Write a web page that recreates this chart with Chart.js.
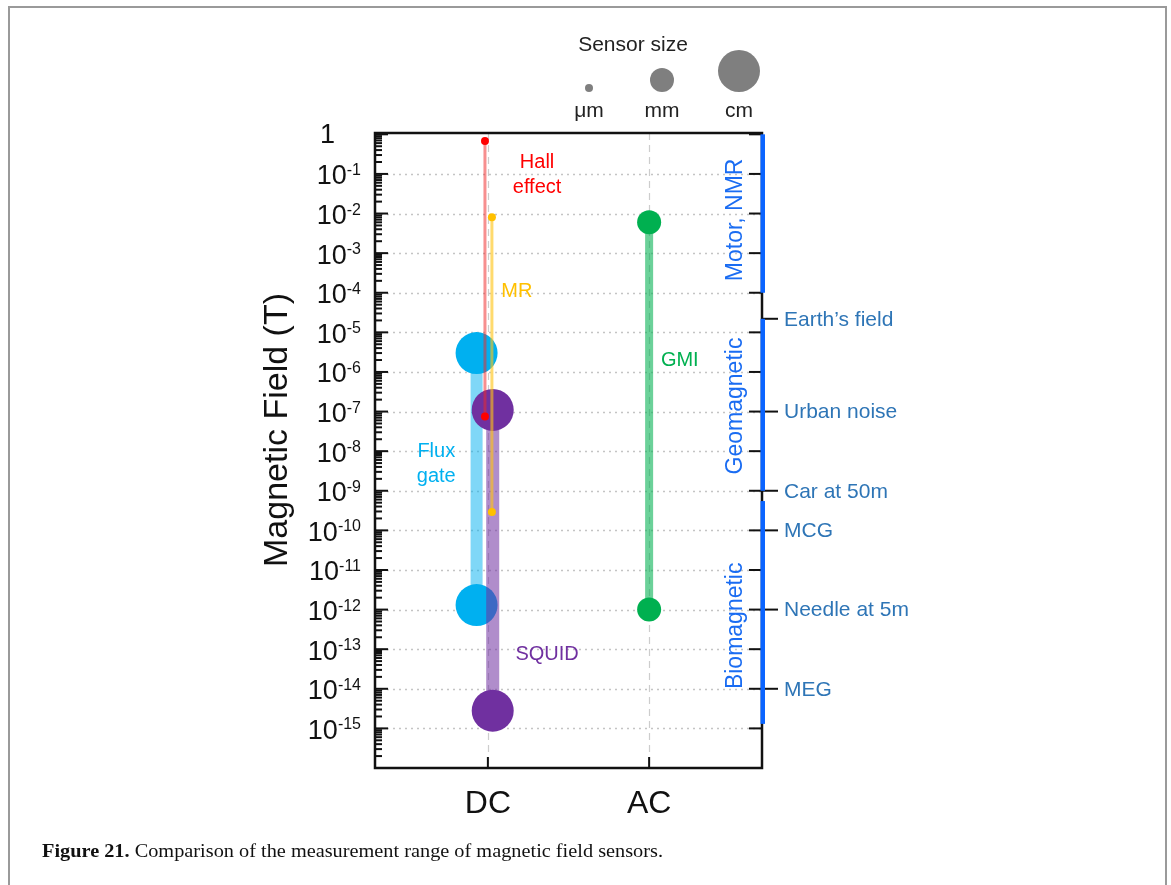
<!DOCTYPE html>
<html>
<head>
<meta charset="utf-8">
<title>Magnetic field sensor ranges</title>
<script src="https://cdn.jsdelivr.net/npm/chart.js@4/dist/chart.umd.min.js"></script>
<style>
  html, body { margin: 0; padding: 0; background: #fff; }
  #wrap { position: relative; width: 1171px; height: 885px; overflow: hidden; }
  #frame { position: absolute; left: 8px; top: 6px; width: 1155px; height: 920px;
           border: 2px solid #9a9a9a; }
  #c { position: absolute; left: 0; top: 0; }
</style>
</head>
<body>
<div id="wrap">
  <div id="frame"></div>
  <canvas id="c" width="1171" height="885"></canvas>
</div>
<script>
// ---- data ----
const categories = ['DC', 'AC'];
const categoryX = [1, 2];

const sensors    = ['MR', 'Hall effect', 'SQUID', 'Flux gate', 'GMI'];
const sensorX    = [1.025, 0.982, 1.03, 0.93, 2];
const rangeHigh  = [8e-3, 0.68, 1.1e-7, 3e-6, 6e-3];      // tesla
const rangeLow   = [2.9e-10, 7.5e-8, 2.8e-15, 1.3e-12, 1e-12];
const sensorSize = ['μm', 'μm', 'cm', 'cm', 'mm'];

const sizeClasses = ['μm', 'mm', 'cm'];

const fieldExponents = [0, -1, -2, -3, -4, -5, -6, -7, -8, -9, -10, -11, -12, -13, -14, -15];

const regionNames = ['Motor, NMR', 'Geomagnetic', 'Biomagnetic'];
const regionHigh  = [1, 2.2e-5, 5.5e-10];
const regionLow   = [1e-4, 1e-9, 1.3e-15];
const regionLabelExp = [-2.16, -6.86, -12.41];

const referenceNames  = ['Earth\u2019s field', 'Urban noise', 'Car at 50m', 'MCG', 'Needle at 5m', 'MEG'];
const referenceValues = [2.2e-5, 1e-7, 1e-9, 1e-10, 1e-12, 1e-14];

// ---- styling ----
const SANS = '"Liberation Sans", Arial, Helvetica, sans-serif';
const SERIF = '"Liberation Serif", "Times New Roman", serif';
const style = {
  'MR':          { color: '#ffc000', line: 'rgba(255,196,20,0.62)', width: 3,  order: 0 },
  'Hall effect': { color: '#ff0000', line: 'rgba(240,40,40,0.52)',  width: 3,  order: 1 },
  'SQUID':       { color: '#7030a0', line: 'rgba(112,48,160,0.55)', width: 13, order: 2 },
  'Flux gate':   { color: '#00b0f0', line: 'rgba(0,176,240,0.5)',   width: 12, order: 3 },
  'GMI':         { color: '#00b050', line: 'rgba(0,176,80,0.58)',   width: 8,  order: 4 }
};
const sizeRadius = { 'μm': 4, 'mm': 12, 'cm': 21 };

// text anchors in data space: [x, log10(T)] of first line
const sensorLabelAt = {
  'Hall effect': { x: 1.305, e: -0.72, lines: ['Hall', 'effect'] },
  'MR':          { x: 1.18,  e: -3.96, lines: ['MR'] },
  'Flux gate':   { x: 0.68,  e: -8.02, lines: ['Flux', 'gate'] },
  'SQUID':       { x: 1.367, e: -13.14, lines: ['SQUID'] },
  'GMI':         { x: 2.19,  e: -5.7,  lines: ['GMI'] }
};

const datasets = sensors.map((name, i) => ({
  label: name,
  data: [{ x: sensorX[i], y: rangeHigh[i] }, { x: sensorX[i], y: rangeLow[i] }],
  showLine: true,
  borderColor: style[name].line,
  borderWidth: style[name].width,
  borderCapStyle: 'butt',
  pointRadius: sizeRadius[sensorSize[i]],
  pointHoverRadius: sizeRadius[sensorSize[i]],
  pointBackgroundColor: style[name].color,
  pointBorderWidth: 0,
  pointBorderColor: style[name].color,
  order: style[name].order,
  clip: false
}));

function seg(ctx, x1, y1, x2, y2) {
  ctx.beginPath(); ctx.moveTo(x1, y1); ctx.lineTo(x2, y2); ctx.stroke();
}

const decor = {
  id: 'decor',
  beforeDatasetsDraw(chart) {
    const { ctx, chartArea: a, scales: { x, y } } = chart;
    ctx.save();
    // dotted decade gridlines
    ctx.strokeStyle = '#c4c4c4';
    ctx.lineWidth = 1.3;
    ctx.setLineDash([2, 4]);
    fieldExponents.forEach(e => {
      if (e === 0) return;
      const py = Math.round(y.getPixelForValue(Math.pow(10, e))) + 0.5;
      seg(ctx, a.left, py, a.right, py);
    });
    // dashed category gridlines
    ctx.strokeStyle = '#cdcdcd';
    ctx.lineWidth = 1.2;
    ctx.setLineDash([7, 5]);
    categoryX.forEach(v => {
      const px = Math.round(x.getPixelForValue(v)) + 0.5;
      seg(ctx, px, a.top, px, a.bottom);
    });
    ctx.restore();
  },
  afterDatasetsDraw(chart) {
    const { ctx, chartArea: a, scales: { x, y } } = chart;
    const Y = v => y.getPixelForValue(v);
    const X = v => x.getPixelForValue(v);
    ctx.save();
    ctx.setLineDash([]);

    // frame
    ctx.strokeStyle = '#111';
    ctx.lineWidth = 2.5;
    ctx.strokeRect(a.left, a.top, a.right - a.left, a.bottom - a.top);

    // left axis: inward major + minor ticks
    ctx.lineWidth = 2;
    for (let n = -16; n <= 0; n++) {
      const py = Y(Math.pow(10, n));
      if (n > -16) seg(ctx, a.left, py, a.left + 13, py);
      if (n < 0) {
        for (let m = 2; m <= 9; m++) {
          const pm = Y(m * Math.pow(10, n));
          seg(ctx, a.left, pm, a.left + 7, pm);
        }
      }
    }
    // right axis: inward decade ticks
    fieldExponents.forEach(e => {
      const py = Y(Math.pow(10, e));
      seg(ctx, a.right - 13, py, a.right, py);
    });
    // bottom axis: category ticks
    categoryX.forEach(v => {
      const px = X(v);
      seg(ctx, px, a.bottom, px, a.bottom - 11);
    });

    // y tick labels with superscript exponents
    ctx.fillStyle = '#111';
    fieldExponents.forEach(e => {
      const py = Y(Math.pow(10, e));
      if (e === 0) {
        ctx.font = '27px ' + SANS;
        ctx.textAlign = 'right';
        ctx.textBaseline = 'middle';
        ctx.fillText('1', 335, py + 1);
        return;
      }
      const sup = '-' + String(-e);
      ctx.font = '16px ' + SANS;
      const sw = ctx.measureText(sup).width;
      ctx.textAlign = 'left';
      ctx.textBaseline = 'alphabetic';
      ctx.fillText(sup, 361 - sw, py + 1);
      ctx.font = '27px ' + SANS;
      ctx.textAlign = 'right';
      ctx.fillText('10', 361 - sw, py + 10.5);
    });

    // y axis title
    ctx.save();
    ctx.translate(287, 430);
    ctx.rotate(-Math.PI / 2);
    ctx.font = '34px ' + SANS;
    ctx.textAlign = 'center';
    ctx.textBaseline = 'alphabetic';
    ctx.fillText('Magnetic Field (T)', 0, 0);
    ctx.restore();

    // category labels
    ctx.font = '32px ' + SANS;
    ctx.textAlign = 'center';
    ctx.textBaseline = 'middle';
    categories.forEach((c, i) => ctx.fillText(c, X(categoryX[i]), 804));

    // sensor labels
    ctx.font = '20px ' + SANS;
    sensors.forEach(name => {
      const lab = sensorLabelAt[name];
      ctx.fillStyle = style[name].color;
      const px = X(lab.x), py = Y(Math.pow(10, lab.e));
      lab.lines.forEach((t, k) => ctx.fillText(t, px, py + k * 25));
    });

    // reference field levels outside the right axis
    ctx.strokeStyle = '#111';
    ctx.lineWidth = 2;
    ctx.fillStyle = '#2e75b6';
    ctx.font = '21px ' + SANS;
    ctx.textAlign = 'left';
    ctx.textBaseline = 'middle';
    referenceNames.forEach((t, i) => {
      const py = Y(referenceValues[i]);
      seg(ctx, a.right, py, a.right + 16, py);
      ctx.fillText(t, a.right + 22, py + 1);
    });

    // application bands along the right axis
    ctx.fillStyle = '#0a64ff';
    regionNames.forEach((t, i) => {
      const y1 = Y(regionHigh[i]), y2 = Y(regionLow[i]);
      ctx.fillRect(a.right - 1.5, Math.min(y1, y2), 4.5, Math.abs(y2 - y1));
      ctx.save();
      ctx.translate(742, Y(Math.pow(10, regionLabelExp[i])));
      ctx.rotate(-Math.PI / 2);
      ctx.font = '23px ' + SANS;
      ctx.textAlign = 'center';
      ctx.textBaseline = 'alphabetic';
      ctx.fillStyle = '#1a6cf2';
      ctx.fillText(t, 0, 0);
      ctx.restore();
    });

    // sensor size key
    ctx.fillStyle = '#222';
    ctx.font = '21px ' + SANS;
    ctx.textAlign = 'center';
    ctx.textBaseline = 'middle';
    ctx.fillText('Sensor size', 633, 45);
    const keyX = { 'μm': 589, 'mm': 662, 'cm': 739 };
    sizeClasses.forEach(s => {
      const r = sizeRadius[s];
      ctx.fillStyle = '#7f7f7f';
      ctx.beginPath();
      ctx.arc(keyX[s], 92 - r, r, 0, Math.PI * 2);
      ctx.fill();
      ctx.fillStyle = '#222';
      ctx.font = '21px ' + SANS;
      ctx.fillText(s, keyX[s], 111);
    });

    // caption
    const bold = 'Figure 21.';
    const rest = ' Comparison of the measurement range of magnetic field sensors.';
    ctx.textAlign = 'left';
    ctx.textBaseline = 'alphabetic';
    ctx.fillStyle = '#111';
    ctx.font = 'bold 18px ' + SERIF;
    const bw = ctx.measureText(bold).width;
    ctx.font = '18px ' + SERIF;
    const rw = ctx.measureText(rest).width;
    const x0 = 42, x1 = 663;
    const sx = (x1 - x0) / (bw + rw);
    ctx.save();
    ctx.translate(x0, 857);
    ctx.scale(sx, 1);
    ctx.font = 'bold 18px ' + SERIF;
    ctx.fillText(bold, 0, 0);
    ctx.font = '18px ' + SERIF;
    ctx.fillText(rest, bw, 0);
    ctx.restore();

    ctx.restore();
  }
};

new Chart(document.getElementById('c'), {
  type: 'scatter',
  data: { datasets },
  options: {
    responsive: false,
    animation: false,
    events: [],
    layout: { padding: { left: 375, right: 409, top: 133, bottom: 117 } },
    plugins: { legend: { display: false }, tooltip: { enabled: false } },
    scales: {
      x: { type: 'linear', min: 0.3, max: 2.7, display: false },
      y: { type: 'logarithmic', min: 1e-16, max: 1.08, display: false }
    }
  },
  plugins: [decor]
});
</script>
</body>
</html>
